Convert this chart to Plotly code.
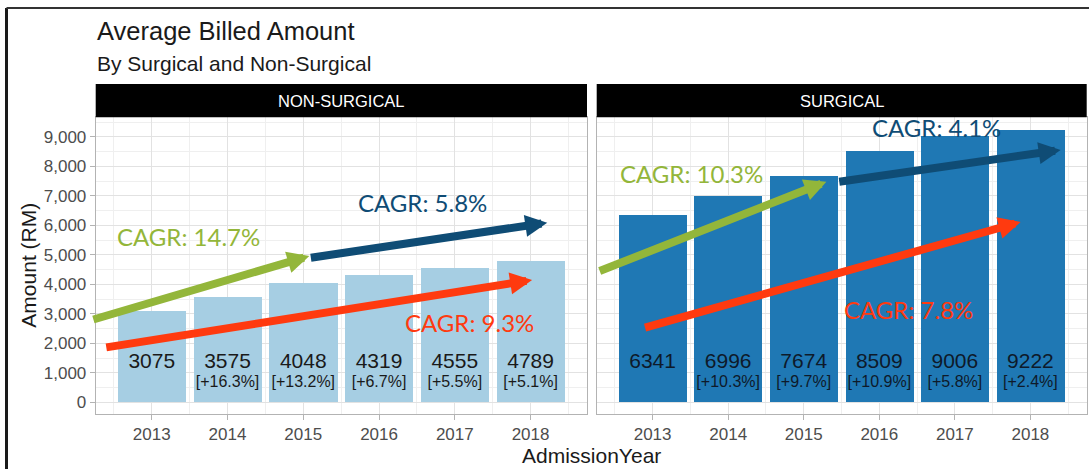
import plotly.graph_objects as go

# ---------------- data ----------------
years = [2013, 2014, 2015, 2016, 2017, 2018]
nonsurgical = [3075, 3575, 4048, 4319, 4555, 4789]
surgical = [6341, 6996, 7674, 8509, 9006, 9222]
nonsurgical_growth = ["", "[+16.3%]", "[+13.2%]", "[+6.7%]", "[+5.5%]", "[+5.1%]"]
surgical_growth = ["", "[+10.3%]", "[+9.7%]", "[+10.9%]", "[+5.8%]", "[+2.4%]"]
panel_names = ["NON-SURGICAL", "SURGICAL"]
cagr_labels = {
    "NON-SURGICAL": ["CAGR: 14.7%", "CAGR: 5.8%", "CAGR: 9.3%"],
    "SURGICAL": ["CAGR: 10.3%", "CAGR: 4.1%", "CAGR: 7.8%"],
}

# ---------------- styles ----------------
W, H = 1089, 469
LIGHT = "#a6cee3"
DARK = "#1f78b4"
GREEN = "#93b63a"
NAVY = "#0f4c75"
RED = "#ff3a0f"
BASE_FONT = "Liberation Sans, Arial, sans-serif"
CAGR_FONT = "Lato, Open Sans, sans-serif"
GRID = "#e2e2e2"
MINOR = "#efefef"
BORDER = "#b3b3b3"

def px_x(p):
    return p / W

def px_y(p):
    return 1 - p / H

dom1 = [px_x(95.7), px_x(587)]
dom2 = [px_x(596.7), px_x(1086.7)]
ydom = [px_y(414), px_y(117.3)]
strip_top = px_y(84)

xrange_ = [2012.26, 2018.745]
yrange_ = [-390, 9660]
VALUE_Y = 1340
GROWTH_Y = 660

fig = go.Figure()

for i, (vals, growth, col, txtcol) in enumerate([
    (nonsurgical, nonsurgical_growth, LIGHT, "#1a1a1a"),
    (surgical, surgical_growth, DARK, "#0e1a2a"),
]):
    xa = "x" if i == 0 else "x2"
    ya = "y" if i == 0 else "y2"
    fig.add_trace(go.Bar(x=years, y=vals, width=0.9, marker=dict(color=col, line=dict(width=0)),
                         xaxis=xa, yaxis=ya, showlegend=False, hoverinfo="x+y"))
    fig.add_trace(go.Scatter(x=years, y=[VALUE_Y] * len(years), mode="text",
                             text=[str(v) for v in vals],
                             textfont=dict(family=BASE_FONT, size=21, color=txtcol),
                             xaxis=xa, yaxis=ya, showlegend=False, cliponaxis=False, hoverinfo="skip"))
    fig.add_trace(go.Scatter(x=years, y=[GROWTH_Y] * len(years), mode="text",
                             text=growth,
                             textfont=dict(family=BASE_FONT, size=16, color=txtcol),
                             xaxis=xa, yaxis=ya, showlegend=False, cliponaxis=False, hoverinfo="skip"))

axis_common = dict(
    showline=True, linecolor=BORDER, linewidth=1, mirror=True,
    showgrid=True, gridcolor=GRID, gridwidth=1, zeroline=False,
    tickfont=dict(family=BASE_FONT, size=17, color="#4d4d4d"),
)
xcommon = dict(axis_common, range=xrange_, tickmode="array", tickvals=years,
               ticks="outside", ticklen=5, tickcolor=BORDER,
               minor=dict(dtick=0.5, tick0=2012.5, showgrid=True, gridcolor=MINOR, gridwidth=1, ticks=""))
fig.update_layout(
    xaxis=dict(xcommon, domain=dom1, anchor="y"),
    xaxis2=dict(xcommon, domain=dom2, anchor="y2"),
    yaxis=dict(axis_common, domain=ydom, range=yrange_, anchor="x", dtick=1000, tick0=0,
               tickformat=",", ticks="outside", ticklen=5, tickcolor=BORDER,
               minor=dict(dtick=500, tick0=0, showgrid=True, gridcolor=MINOR, gridwidth=1, ticks="")),
    yaxis2=dict(axis_common, domain=ydom, range=yrange_, anchor="x2", dtick=1000, tick0=0,
                showticklabels=False, ticks="",
                minor=dict(dtick=500, tick0=0, showgrid=True, gridcolor=MINOR, gridwidth=1, ticks="")),
    width=W, height=H,
    margin=dict(l=0, r=0, t=0, b=0),
    paper_bgcolor="white", plot_bgcolor="white",
    bargap=0,
)

shapes = []
annotations = []
# strips
for dom, name in zip([dom1, dom2], panel_names):
    shapes.append(dict(type="rect", xref="paper", yref="paper", x0=dom[0], x1=dom[1],
                       y0=ydom[1], y1=strip_top, fillcolor="black", line=dict(width=0), layer="above"))
    annotations.append(dict(xref="paper", yref="paper", x=(dom[0] + dom[1]) / 2, y=px_y(101),
                            text=name, showarrow=False, xanchor="center", yanchor="middle",
                            font=dict(family=BASE_FONT, size=16.5, color="white")))

# white patch behind the top CAGR label (hides gridlines there)
shapes.append(dict(type="rect", xref="paper", yref="paper", x0=px_x(855), x1=px_x(1000),
                   y0=px_y(138), y1=px_y(117.8), fillcolor="white", line=dict(width=0), layer="between"))

# outer frame (left and top)
shapes.append(dict(type="line", xref="paper", yref="paper", x0=px_x(6.5), x1=px_x(6.5),
                   y0=0, y1=px_y(8), line=dict(color="#1a1a1a", width=3)))
shapes.append(dict(type="line", xref="paper", yref="paper", x0=px_x(6.5), x1=1,
                   y0=px_y(8), y1=px_y(8), line=dict(color="#333333", width=2)))

# titles
annotations.append(dict(xref="paper", yref="paper", x=px_x(95), y=px_y(31.5), text="Average Billed Amount",
                        showarrow=False, xanchor="left", yanchor="middle",
                        font=dict(family=BASE_FONT, size=25.5, color="#1a1a1a")))
annotations.append(dict(xref="paper", yref="paper", x=px_x(95), y=px_y(63.3), text="By Surgical and Non-Surgical",
                        showarrow=False, xanchor="left", yanchor="middle",
                        font=dict(family=BASE_FONT, size=21, color="#1a1a1a")))
annotations.append(dict(xref="paper", yref="paper", x=(dom1[0] + dom2[1]) / 2, y=px_y(455), text="AdmissionYear",
                        showarrow=False, xanchor="center", yanchor="middle",
                        font=dict(family=BASE_FONT, size=21, color="#1a1a1a")))
annotations.append(dict(xref="paper", yref="paper", x=px_x(29), y=(ydom[0] + ydom[1]) / 2, text="Amount (RM)",
                        showarrow=False, xanchor="center", yanchor="middle", textangle=-90,
                        font=dict(family=BASE_FONT, size=21, color="#1a1a1a")))

# CAGR arrows: (axis suffix, tail x, tail y, tip x, tip y, colour)
arrows = [
    ("", 2012.21, 2795, 2015.08, 4963, GREEN),
    ("", 2015.08, 4896, 2018.22, 6092, NAVY),
    ("", 2012.38, 1857, 2018.02, 4150, RED),
    ("2", 2012.28, 4432, 2015.30, 7481, GREEN),
    ("2", 2015.45, 7471, 2018.40, 8555, NAVY),
    ("2", 2012.88, 2524, 2017.87, 6115, RED),
]
for s, tx, ty, hx, hy, c in arrows:
    annotations.append(dict(xref="x" + s, yref="y" + s, axref="x" + s, ayref="y" + s,
                            x=hx, y=hy, ax=tx, ay=ty, text="", showarrow=True,
                            arrowhead=2, arrowsize=0.55, arrowwidth=8, arrowcolor=c, standoff=0))

# CAGR labels: (axis suffix, x, y, text, colour)
cagr_pos = [
    ("", 2013.49, 5617, cagr_labels["NON-SURGICAL"][0], GREEN),
    ("", 2016.57, 6759, cagr_labels["NON-SURGICAL"][1], NAVY),
    ("", 2017.19, 2704, cagr_labels["NON-SURGICAL"][2], RED),
    ("2", 2013.51, 7765, cagr_labels["SURGICAL"][0], GREEN),
    ("2", 2016.76, 9300, cagr_labels["SURGICAL"][1], NAVY),
    ("2", 2016.38, 3134, cagr_labels["SURGICAL"][2], RED),
]
for s, x, y, t, c in cagr_pos:
    annotations.append(dict(xref="x" + s, yref="y" + s, x=x, y=y, text=t, showarrow=False,
                            xanchor="center", yanchor="middle",
                            font=dict(family=CAGR_FONT, size=24, color=c)))

fig.update_layout(shapes=shapes, annotations=annotations)
fig.write_html("out.html", config={"displayModeBar": False},
               post_script="document.body.style.margin='0';")
